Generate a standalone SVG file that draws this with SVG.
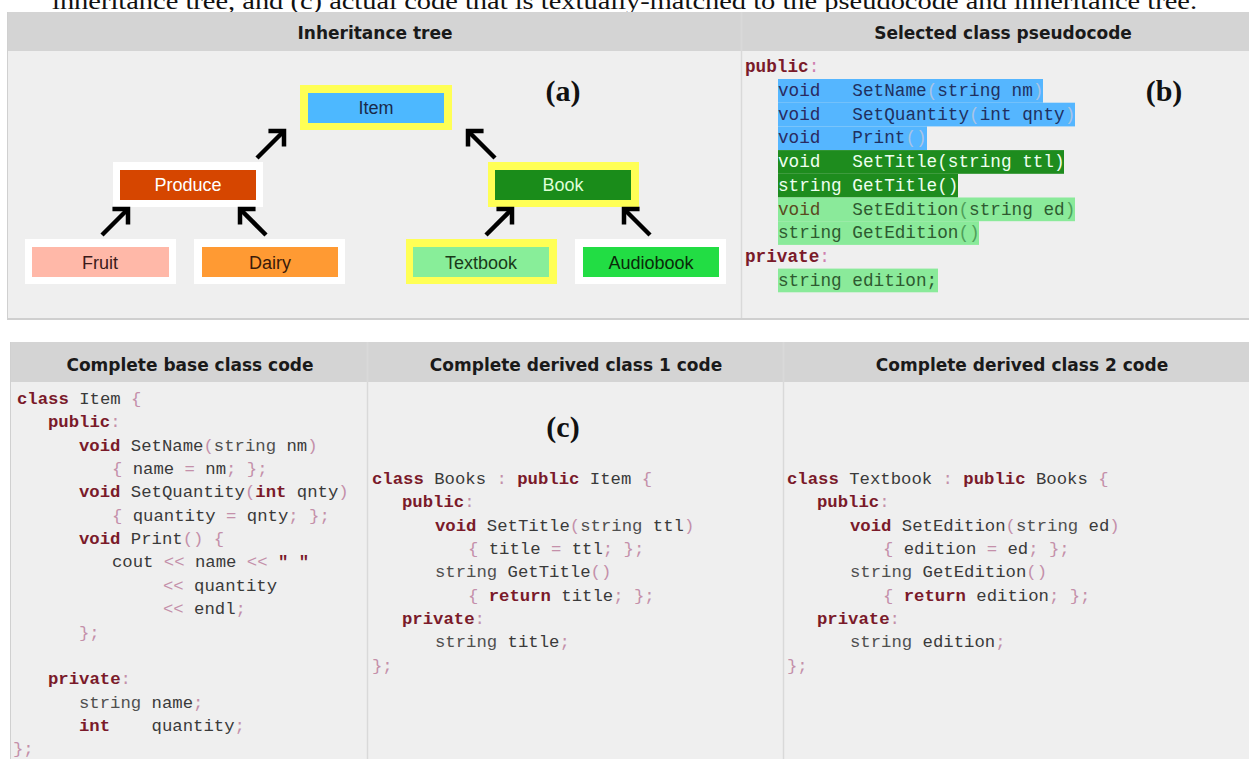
<svg xmlns="http://www.w3.org/2000/svg" width="1249" height="759" viewBox="0 0 1249 759">
<defs>
<style>
.cap{font-family:"Liberation Serif","Times New Roman",serif;font-size:24px;fill:#111}
.hd{font-family:"DejaVu Sans",Verdana,sans-serif;font-weight:bold;font-size:17px;fill:#1a1a1a;text-anchor:middle}
.lbl{font-family:"Liberation Serif","Times New Roman",serif;font-weight:bold;font-size:30px;fill:#111;text-anchor:middle}
.nt{font-family:"Liberation Sans",Arial,sans-serif;font-size:18px;text-anchor:middle}
.code text{font-family:"Liberation Mono","Courier New",monospace;font-size:17.3px;fill:#3a3a3a;white-space:pre}
.pc text{font-family:"Liberation Mono","Courier New",monospace;font-size:17.7px;white-space:pre}
.k{fill:#7a1a2a;font-weight:bold}
.p{fill:#c490aa}
.s{fill:#505050}
.bp{fill:#a9c4e4}
.gp{fill:#4f9f5a}
.hb{fill:#d4d4d4}
.bd{fill:#efefef}
.dv{stroke:#d9d9d9;stroke-width:1.5}
.arr{stroke:#000;stroke-width:4.5;fill:none;marker-end:url(#chev)}
</style>
<marker id="chev" markerUnits="userSpaceOnUse" markerWidth="30" markerHeight="30" refX="0" refY="0" viewBox="-15 -15 30 30" orient="auto" overflow="visible">
<path d="M-11,-11 L0,0 L-11,11" fill="none" stroke="#000" stroke-width="4.5" stroke-linejoin="miter"/>
</marker>
</defs>
<rect width="1249" height="759" fill="#fff"/>
<text class="cap" x="52" y="9" textLength="1145" lengthAdjust="spacingAndGlyphs">inheritance tree, and (c) actual code that is textually-matched to the pseudocode and inheritance tree.</text>

<g id="top-panels">
<rect x="7" y="12" width="1242" height="39" class="hb"/>
<rect x="7" y="51" width="1242" height="267" class="bd"/>
<rect x="7" y="318" width="1242" height="2" fill="#cfcfcf"/>
<line x1="7.5" y1="12" x2="7.5" y2="320" stroke="#d0d0d0" stroke-width="1"/>
<line x1="741.5" y1="12" x2="741.5" y2="318" class="dv"/>
<text class="hd" x="375" y="39">Inheritance tree</text>
<text class="hd" x="1003" y="39">Selected class pseudocode</text>
<text class="lbl" x="563" y="101">(a)</text>
<text class="lbl" x="1164" y="101">(b)</text>
</g>

<g id="node-item">
<rect x="300" y="85" width="152" height="45" fill="#ffff55"/>
<rect x="308" y="93" width="136" height="30" fill="#4db8ff"/>
<text class="nt" x="376" y="114" fill="#1a2a4a">Item</text>
</g>
<g id="node-produce">
<rect x="113" y="162" width="150" height="45" fill="#fff"/>
<rect x="120" y="170" width="136" height="30" fill="#d64600"/>
<text class="nt" x="188" y="191" fill="#fff">Produce</text>
</g>
<g id="node-book">
<rect x="488" y="162" width="151" height="45" fill="#ffff55"/>
<rect x="495" y="170" width="136" height="30" fill="#1a8c1a"/>
<text class="nt" x="563" y="191" fill="#dfffd8">Book</text>
</g>
<g id="node-fruit">
<rect x="25" y="239" width="151" height="45" fill="#fff"/>
<rect x="32" y="247" width="137" height="30" fill="#ffb8a8"/>
<text class="nt" x="100" y="269" fill="#3a1a1a">Fruit</text>
</g>
<g id="node-dairy">
<rect x="194" y="239" width="151" height="45" fill="#fff"/>
<rect x="202" y="247" width="136" height="30" fill="#ff9a33"/>
<text class="nt" x="270" y="269" fill="#3a1a0a">Dairy</text>
</g>
<g id="node-textbook">
<rect x="406" y="239" width="151" height="45" fill="#ffff55"/>
<rect x="413" y="247" width="136" height="30" fill="#88ee99"/>
<text class="nt" x="481" y="269" fill="#1a3a1a">Textbook</text>
</g>
<g id="node-audiobook">
<rect x="575" y="239" width="151" height="45" fill="#fff"/>
<rect x="583" y="247" width="136" height="30" fill="#22dd44"/>
<text class="nt" x="651" y="269" fill="#0a2a0a">Audiobook</text>
</g>

<g id="connectors">
<line class="arr" x1="257" y1="158" x2="284" y2="131"/>
<line class="arr" x1="495" y1="158" x2="468" y2="131"/>
<line class="arr" x1="102" y1="235" x2="128" y2="209"/>
<line class="arr" x1="266" y1="235" x2="240" y2="209"/>
<line class="arr" x1="486" y1="235" x2="512" y2="209"/>
<line class="arr" x1="650" y1="235" x2="624" y2="209"/>
</g>

<g id="pseudocode" class="pc">
<rect x="778" y="79" width="265" height="23.7" fill="#55b6ff"/>
<rect x="778" y="102.7" width="297" height="23.7" fill="#55b6ff"/>
<rect x="778" y="126.4" width="149" height="23.7" fill="#55b6ff"/>
<rect x="778" y="150.1" width="286" height="23.7" fill="#1e8c1e"/>
<rect x="778" y="173.8" width="180" height="23.7" fill="#1e8c1e"/>
<rect x="778" y="197.5" width="297" height="23.7" fill="#8aea9a"/>
<rect x="778" y="221.2" width="201" height="23.7" fill="#8aea9a"/>
<rect x="778" y="268.6" width="160" height="23.7" fill="#8aea9a"/>
<text xml:space="preserve" x="745" y="72"><tspan class="k">public</tspan><tspan fill="#d080b0">:</tspan></text>
<text xml:space="preserve" x="778" y="96" fill="#1f3060"><tspan fill="#2a2a60">void</tspan>   SetName<tspan class="bp">(</tspan>string nm<tspan class="bp">)</tspan></text>
<text xml:space="preserve" x="778" y="119.7" fill="#1f3060"><tspan fill="#2a2a60">void</tspan>   SetQuantity<tspan class="bp">(</tspan>int qnty<tspan class="bp">)</tspan></text>
<text xml:space="preserve" x="778" y="143.4" fill="#1f3060"><tspan fill="#2a2a60">void</tspan>   Print<tspan class="bp">()</tspan></text>
<text xml:space="preserve" x="778" y="167.1" fill="#eefff0">void   SetTitle(string ttl)</text>
<text xml:space="preserve" x="778" y="190.8" fill="#eefff0">string GetTitle()</text>
<text xml:space="preserve" x="778" y="214.5" fill="#2e5a30"><tspan fill="#5a4a20">void</tspan>   SetEdition<tspan class="gp">(</tspan>string ed<tspan class="gp">)</tspan></text>
<text xml:space="preserve" x="778" y="238.2" fill="#2e5a30">string GetEdition<tspan class="gp">()</tspan></text>
<text xml:space="preserve" x="745" y="262"><tspan class="k">private</tspan><tspan fill="#d080b0">:</tspan></text>
<text xml:space="preserve" x="778" y="285.6" fill="#2e5a30">string edition;</text>
</g>

<g id="bottom-panels">
<rect x="10" y="342" width="1239" height="40" class="hb"/>
<rect x="10" y="382" width="1239" height="377" class="bd"/>
<line x1="10.5" y1="342" x2="10.5" y2="759" stroke="#d0d0d0" stroke-width="1"/>
<line x1="367.5" y1="342" x2="367.5" y2="759" class="dv"/>
<line x1="783.5" y1="342" x2="783.5" y2="759" class="dv"/>
<text class="hd" x="190" y="371">Complete base class code</text>
<text class="hd" x="576" y="371">Complete derived class 1 code</text>
<text class="hd" x="1022" y="371">Complete derived class 2 code</text>
<text class="lbl" x="563" y="437">(c)</text>
</g>

<g id="base-code" class="code">
<text xml:space="preserve" x="17" y="404"><tspan class="k">class</tspan> Item <tspan class="p">{</tspan></text>
<text xml:space="preserve" x="48" y="427.4"><tspan class="k">public</tspan><tspan class="p">:</tspan></text>
<text xml:space="preserve" x="79" y="450.7"><tspan class="k">void</tspan> SetName<tspan class="p">(</tspan><tspan class="s">string</tspan> nm<tspan class="p">)</tspan></text>
<text xml:space="preserve" x="112" y="474"><tspan class="p">{</tspan> name <tspan class="p">=</tspan> nm<tspan class="p">; };</tspan></text>
<text xml:space="preserve" x="79" y="497.4"><tspan class="k">void</tspan> SetQuantity<tspan class="p">(</tspan><tspan class="k">int</tspan> qnty<tspan class="p">)</tspan></text>
<text xml:space="preserve" x="112" y="520.7"><tspan class="p">{</tspan> quantity <tspan class="p">=</tspan> qnty<tspan class="p">; };</tspan></text>
<text xml:space="preserve" x="79" y="544"><tspan class="k">void</tspan> Print<tspan class="p">() {</tspan></text>
<text xml:space="preserve" x="112" y="567.4">cout <tspan class="p">&lt;&lt;</tspan> name <tspan class="p">&lt;&lt;</tspan> <tspan class="k">" "</tspan></text>
<text xml:space="preserve" x="163" y="590.8"><tspan class="p">&lt;&lt;</tspan> quantity</text>
<text xml:space="preserve" x="163" y="614"><tspan class="p">&lt;&lt;</tspan> endl<tspan class="p">;</tspan></text>
<text xml:space="preserve" x="79" y="637.5"><tspan class="p">};</tspan></text>
<text xml:space="preserve" x="48" y="684"><tspan class="k">private</tspan><tspan class="p">:</tspan></text>
<text xml:space="preserve" x="79" y="707.5"><tspan class="s">string</tspan> name<tspan class="p">;</tspan></text>
<text xml:space="preserve" x="79" y="731"><tspan class="k">int</tspan>    quantity<tspan class="p">;</tspan></text>
<text xml:space="preserve" x="13" y="754"><tspan class="p">};</tspan></text>
</g>

<g id="derived1-code" class="code">
<text xml:space="preserve" x="372" y="484"><tspan class="k">class</tspan> Books <tspan class="p">:</tspan> <tspan class="k">public</tspan> Item <tspan class="p">{</tspan></text>
<text xml:space="preserve" x="402" y="507.4"><tspan class="k">public</tspan><tspan class="p">:</tspan></text>
<text xml:space="preserve" x="435" y="530.7"><tspan class="k">void</tspan> SetTitle<tspan class="p">(</tspan><tspan class="s">string</tspan> ttl<tspan class="p">)</tspan></text>
<text xml:space="preserve" x="468" y="554"><tspan class="p">{</tspan> title <tspan class="p">=</tspan> ttl<tspan class="p">; };</tspan></text>
<text xml:space="preserve" x="435" y="577.4"><tspan class="s">string</tspan> GetTitle<tspan class="p">()</tspan></text>
<text xml:space="preserve" x="468" y="600.7"><tspan class="p">{</tspan> <tspan class="k">return</tspan> title<tspan class="p">; };</tspan></text>
<text xml:space="preserve" x="402" y="624"><tspan class="k">private</tspan><tspan class="p">:</tspan></text>
<text xml:space="preserve" x="435" y="647.4"><tspan class="s">string</tspan> title<tspan class="p">;</tspan></text>
<text xml:space="preserve" x="372" y="670.7"><tspan class="p">};</tspan></text>
</g>

<g id="derived2-code" class="code">
<text xml:space="preserve" x="787" y="484"><tspan class="k">class</tspan> Textbook <tspan class="p">:</tspan> <tspan class="k">public</tspan> Books <tspan class="p">{</tspan></text>
<text xml:space="preserve" x="817" y="507.4"><tspan class="k">public</tspan><tspan class="p">:</tspan></text>
<text xml:space="preserve" x="850" y="530.7"><tspan class="k">void</tspan> SetEdition<tspan class="p">(</tspan><tspan class="s">string</tspan> ed<tspan class="p">)</tspan></text>
<text xml:space="preserve" x="883" y="554"><tspan class="p">{</tspan> edition <tspan class="p">=</tspan> ed<tspan class="p">; };</tspan></text>
<text xml:space="preserve" x="850" y="577.4"><tspan class="s">string</tspan> GetEdition<tspan class="p">()</tspan></text>
<text xml:space="preserve" x="883" y="600.7"><tspan class="p">{</tspan> <tspan class="k">return</tspan> edition<tspan class="p">; };</tspan></text>
<text xml:space="preserve" x="817" y="624"><tspan class="k">private</tspan><tspan class="p">:</tspan></text>
<text xml:space="preserve" x="850" y="647.4"><tspan class="s">string</tspan> edition<tspan class="p">;</tspan></text>
<text xml:space="preserve" x="787" y="670.7"><tspan class="p">};</tspan></text>
</g>
</svg>
